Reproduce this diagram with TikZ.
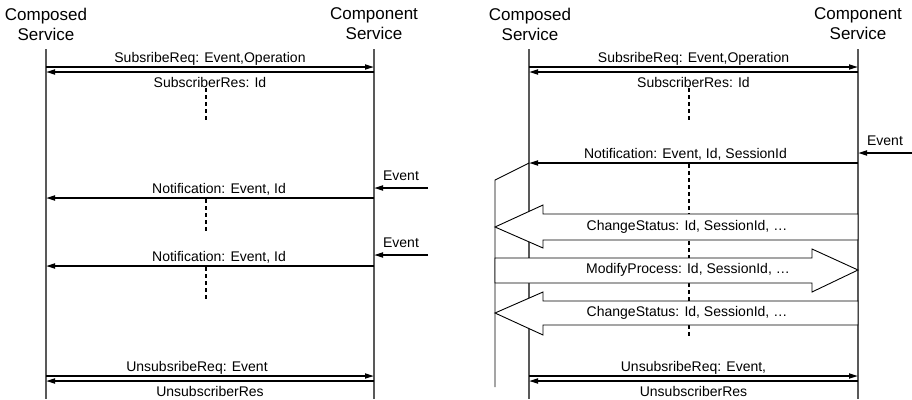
\documentclass[tikz,border=0pt]{standalone}
\usepackage{fontspec}
\setmainfont{Liberation Sans}
\usetikzlibrary{arrows.meta}
\tikzstyle{ttl}=[font=\fontsize{17}{20}\selectfont,align=center,inner sep=0pt]
\tikzstyle{lbl}=[font=\fontsize{14}{16}\selectfont,inner sep=1pt,text height=10pt,text depth=3pt]
\tikzstyle{life}=[line width=1.1pt,black!65]
\tikzstyle{msg}=[line width=1.8pt,-{Triangle[length=9pt,width=5pt]}]
\tikzstyle{dsh}=[line width=1.5pt,dash pattern=on 4pt off 3pt]
\tikzstyle{blk}=[draw=black,line width=.9pt,fill=white,line join=miter]

\begin{document}
\begin{tikzpicture}[x=1pt,y=-1pt]
\useasboundingbox (0,0) rectangle (912,399);
% subscribe / notify, one message per event
\node[ttl] (cmp1) at (46,24) {Composed\\Service};
\node[ttl] (srv1) at (374,24) {Component\\Service};
\coordinate (a0) at (46,49);
\coordinate (a9) at (46,399);
\coordinate (b0) at (374,49);
\coordinate (b9) at (374,399);
\coordinate (a1) at (46,67);
\coordinate (b1) at (374,67);
\coordinate (a2) at (46,72);
\coordinate (b2) at (374,72);
\coordinate (a3) at (46,198);
\coordinate (b3) at (374,198);
\coordinate (a4) at (46,266);
\coordinate (b4) at (374,266);
\coordinate (a5) at (46,376);
\coordinate (b5) at (374,376);
\coordinate (a6) at (46,381);
\coordinate (b6) at (374,381);
\coordinate (e1) at (428,188);
\coordinate (b7) at (374,188);
\coordinate (e2) at (428,255);
\coordinate (b8) at (374,255);
\coordinate (d1) at (206,88);
\coordinate (d2) at (206,122);
\coordinate (d3) at (206,199);
\coordinate (d4) at (206,233);
\coordinate (d5) at (206,267);
\coordinate (d6) at (206,301);
\draw[life] (a0) -- (a9);
\draw[life] (b0) -- (b9);
\draw[dsh] (d1) -- (d2);
\draw[dsh] (d3) -- (d4);
\draw[dsh] (d5) -- (d6);
\draw[msg] (a1) -- node[lbl,above] {SubsribeReq: Event,Operation} (b1);
\draw[msg] (b2) -- node[lbl,below=4pt] {SubscriberRes: Id} (a2);
\draw[msg] (e1) -- node[lbl,above=3pt] {Event} (b7);
\draw[msg] (b3) -- node[lbl,above,xshift=9pt] {Notification: Event, Id} (a3);
\draw[msg] (e2) -- node[lbl,above=3pt] {Event} (b8);
\draw[msg] (b4) -- node[lbl,above,xshift=9pt] {Notification: Event, Id} (a4);
\draw[msg] (a5) -- node[lbl,above,xshift=-13pt] {UnsubsribeReq: Event} (b5);
\draw[msg] (b6) -- node[lbl,below=4pt] {UnsubscriberRes} (a6);
% subscribe / notify, then a session of status and process messages
\node[ttl] (cmp2) at (530,24) {Composed\\Service};
\node[ttl] (srv2) at (858,24) {Component\\Service};
\coordinate (c0) at (529,49);
\coordinate (c9) at (529,399);
\coordinate (f0) at (858,49);
\coordinate (f9) at (858,399);
\coordinate (c1) at (529,67);
\coordinate (f1) at (858,67);
\coordinate (c2) at (529,72);
\coordinate (f2) at (858,72);
\coordinate (c3) at (529,163);
\coordinate (f3) at (858,163);
\coordinate (c5) at (529,376);
\coordinate (f5) at (858,376);
\coordinate (c6) at (529,381);
\coordinate (f6) at (858,381);
\coordinate (e3) at (912,153);
\coordinate (f7) at (858,153);
\coordinate (g1) at (689,88);
\coordinate (g2) at (689,122);
\coordinate (g3) at (689,164);
\coordinate (g4) at (689,338);
\coordinate (s1) at (495,180);
\coordinate (s2) at (495,387);
\draw[life] (c0) -- (c9);
\draw[life] (f0) -- (f9);
\draw[dsh] (g1) -- (g2);
\draw[dsh] (g3) -- (g4);
\draw[line width=.9pt] (c3) -- (s1) -- (s2);
\draw[blk] (858,214) -- (543,214) -- (543,205) -- (495,227) -- (543,248) -- (543,240) -- (858,240) -- cycle;
\draw[blk] (495,258) -- (812,258) -- (812,249) -- (858,270) -- (812,292) -- (812,283) -- (495,283) -- cycle;
\draw[blk] (858,301) -- (543,301) -- (543,292) -- (495,313) -- (543,335) -- (543,325) -- (858,325) -- cycle;
\node[lbl] (cs1) at (687,227) {ChangeStatus: Id, SessionId, …};
\node[lbl] (mp1) at (688,270) {ModifyProcess: Id, SessionId, …};
\node[lbl] (cs2) at (687,313) {ChangeStatus: Id, SessionId, …};
\draw[msg] (c1) -- node[lbl,above] {SubsribeReq: Event,Operation} (f1);
\draw[msg] (f2) -- node[lbl,below=4pt] {SubscriberRes: Id} (c2);
\draw[msg] (e3) -- node[lbl,above=3pt] {Event} (f7);
\draw[msg] (f3) -- node[lbl,above,xshift=-8pt] {Notification: Event, Id, SessionId} (c3);
\draw[msg] (c5) -- node[lbl,above] {UnsubsribeReq: Event,} (f5);
\draw[msg] (f6) -- node[lbl,below=4pt] {UnsubscriberRes} (c6);
\end{tikzpicture}
\end{document}
